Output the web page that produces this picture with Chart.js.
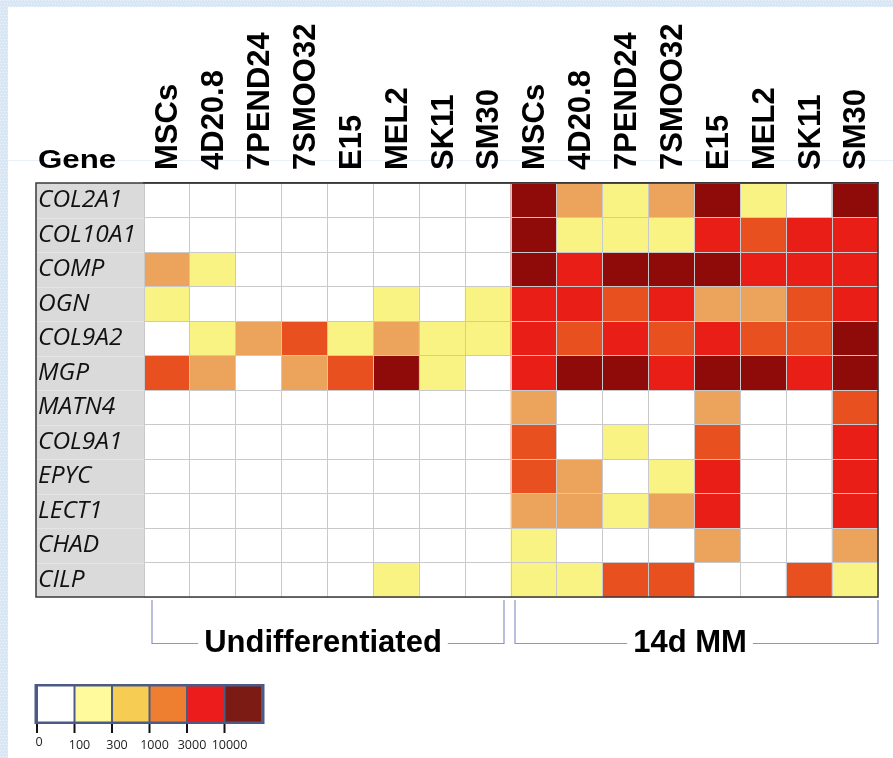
<!DOCTYPE html>
<html>
<head>
<meta charset="utf-8">
<script src="https://cdn.jsdelivr.net/npm/chart.js@4.4.1/dist/chart.umd.min.js"></script>
<style>
  html, body { margin: 0; padding: 0; background: #ffffff; }
  #wrap { width: 893px; height: 758px; position: relative; }
</style>
</head>
<body>
<div id="wrap"><canvas id="heat" width="893" height="758"></canvas></div>
<script>
// Genes (rows) and cell lines (columns, repeated for each condition)
const genes = ['COL2A1', 'COL10A1', 'COMP', 'OGN', 'COL9A2', 'MGP',
               'MATN4', 'COL9A1', 'EPYC', 'LECT1', 'CHAD', 'CILP'];
const cellLines = ['MSCs', '4D20.8', '7PEND24', '7SMOO32', 'E15', 'MEL2', 'SK11', 'SM30'];
const groups = ['Undifferentiated', '14d MM'];

// Colour-scale bin edges (relative expression)
const thresholds = [0, 100, 300, 1000, 3000, 10000];

// Expression bin per cell (index into thresholds), rows follow `genes`
const undifferentiatedBins = [
  [0, 0, 0, 0, 0, 0, 0, 0],
  [0, 0, 0, 0, 0, 0, 0, 0],
  [2, 1, 0, 0, 0, 0, 0, 0],
  [1, 0, 0, 0, 0, 1, 0, 1],
  [0, 1, 2, 3, 1, 2, 1, 1],
  [3, 2, 0, 2, 3, 5, 1, 0],
  [0, 0, 0, 0, 0, 0, 0, 0],
  [0, 0, 0, 0, 0, 0, 0, 0],
  [0, 0, 0, 0, 0, 0, 0, 0],
  [0, 0, 0, 0, 0, 0, 0, 0],
  [0, 0, 0, 0, 0, 0, 0, 0],
  [0, 0, 0, 0, 0, 1, 0, 0]
];
const mmBins = [
  [5, 2, 1, 2, 5, 1, 0, 5],
  [5, 1, 1, 1, 4, 3, 4, 4],
  [5, 4, 5, 5, 5, 4, 4, 4],
  [4, 4, 3, 4, 2, 2, 3, 4],
  [4, 3, 4, 3, 4, 3, 3, 5],
  [4, 5, 5, 4, 5, 5, 4, 5],
  [2, 0, 0, 0, 2, 0, 0, 3],
  [3, 0, 1, 0, 3, 0, 0, 4],
  [3, 2, 0, 1, 4, 0, 0, 4],
  [2, 2, 1, 2, 4, 0, 0, 4],
  [1, 0, 0, 0, 2, 0, 0, 2],
  [1, 1, 3, 3, 0, 0, 3, 1]
];

// Palettes: heatmap cells and the key below it
const cellColors = ['#ffffff', '#f9f383', '#eca35c', '#e8501f', '#e91e16', '#8e0b0a'];
const keyColors = ['#ffffff', '#fffa9c', '#f6cd52', '#ef7f30', '#ec1c1c', '#7c1b14'];

const columns = cellLines.concat(cellLines);

// One floating-bar dataset per gene row
const datasets = genes.map((g, r) => {
  const bins = undifferentiatedBins[r].concat(mmBins[r]);
  return {
    label: g,
    data: columns.map(() => [r, r + 1]),
    backgroundColor: bins.map(b => cellColors[b]),
    borderWidth: 0,
    grouped: false,
    barPercentage: 1,
    categoryPercentage: 1
  };
});

const TABLE_LEFT = 36, TABLE_TOP = 183, TABLE_RIGHT = 878, TABLE_BOTTOM = 597;

const decor = {
  id: 'decor',
  beforeDraw(chart) {
    const ctx = chart.ctx;
    const W = chart.width, H = chart.height;
    ctx.save();
    // light blue textured margin
    ctx.fillStyle = '#d9e6f4';
    ctx.fillRect(0, 0, W, H);
    ctx.fillStyle = '#edf3fa';
    for (let y = 0; y < H; y += 3) {
      for (let x = 0; x < W; x += 3) {
        if (x < 9 || y < 8) ctx.fillRect(x + ((y / 3) % 2), y, 1, 1);
      }
    }
    ctx.fillStyle = '#ffffff';
    ctx.fillRect(8, 7, W - 8, H - 7);
    // faint guide line behind the header
    ctx.strokeStyle = 'rgba(195,213,236,0.35)';
    ctx.lineWidth = 1;
    ctx.beginPath();
    ctx.moveTo(8, 160.5);
    ctx.lineTo(W, 160.5);
    ctx.stroke();
    // grey gene-name column
    const ys = chart.scales.yGrid;
    ctx.fillStyle = '#dadada';
    ctx.fillRect(TABLE_LEFT, TABLE_TOP, chart.chartArea.left - TABLE_LEFT, TABLE_BOTTOM - TABLE_TOP);
    ctx.strokeStyle = '#e4e4e4';
    for (let i = 1; i < genes.length; i++) {
      const py = Math.round(ys.getPixelForValue(i)) + 0.5;
      ctx.beginPath();
      ctx.moveTo(TABLE_LEFT, py);
      ctx.lineTo(chart.chartArea.left, py);
      ctx.stroke();
    }
    ctx.restore();
  },
  afterDraw(chart) {
    const ctx = chart.ctx;
    const xs = chart.scales.x;
    ctx.save();
    // outer frame of the table
    ctx.strokeStyle = '#3a3a3a';
    ctx.lineWidth = 1.5;
    ctx.strokeRect(TABLE_LEFT, TABLE_TOP, TABLE_RIGHT - TABLE_LEFT, TABLE_BOTTOM - TABLE_TOP);

    // "Gene" heading
    ctx.fillStyle = '#000000';
    ctx.font = 'bold 25px "Liberation Sans", Arial, sans-serif';
    ctx.textAlign = 'left';
    ctx.textBaseline = 'alphabetic';
    ctx.save();
    ctx.translate(38, 168);
    ctx.scale(1.25, 1);
    ctx.fillText('Gene', 0, 0);
    ctx.restore();

    // group brackets
    const bw = (xs.getPixelForValue(1) - xs.getPixelForValue(0));
    const groupSpans = [
      { a: xs.getPixelForValue(0) - bw / 2 + 8, b: xs.getPixelForValue(7) + bw / 2 - 7, tx: 323 },
      { a: xs.getPixelForValue(8) - bw / 2 + 4, b: xs.getPixelForValue(15) + bw / 2, tx: 690 }
    ];
    ctx.font = 'bold 31px "Liberation Sans", Arial, sans-serif';
    const top = 600, yb = 643.5;
    groupSpans.forEach((s, i) => {
      const tw = ctx.measureText(groups[i]).width;
      ctx.strokeStyle = '#8c94c8';
      ctx.lineWidth = 1.2;
      ctx.beginPath();
      ctx.moveTo(s.a, top);
      ctx.lineTo(s.a, yb);
      ctx.lineTo(s.tx - tw / 2 - 6, yb);
      ctx.moveTo(s.tx + tw / 2 + 6, yb);
      ctx.lineTo(s.b, yb);
      ctx.lineTo(s.b, top);
      ctx.stroke();
      ctx.fillStyle = '#000000';
      ctx.textAlign = 'center';
      ctx.fillText(groups[i], s.tx, 652);
    });

    // colour key
    const kx = 37, ky = 686, cw = 37.5, kh = 36;
    ctx.fillStyle = '#4b5b86';
    ctx.fillRect(kx - 2.5, ky - 2, cw * keyColors.length + 5, kh + 4);
    keyColors.forEach((c, i) => {
      ctx.fillStyle = c;
      ctx.fillRect(kx + i * cw + 1, ky + 0.5, cw - 2, kh - 1);
    });
    ctx.strokeStyle = '#111111';
    ctx.lineWidth = 2;
    ctx.font = '12.5px "Open Sans", "Liberation Sans", sans-serif';
    ctx.fillStyle = '#222222';
    ctx.textAlign = 'center';
    thresholds.forEach((t, i) => {
      const tx = kx + i * cw;
      ctx.beginPath();
      ctx.moveTo(tx, ky + kh + 2);
      ctx.lineTo(tx, ky + kh + 11);
      ctx.stroke();
      ctx.fillText(String(t), i === 0 ? tx + 2 : tx + 5, i === 0 ? 746 : 749);
    });
    ctx.restore();
  }
};

new Chart(document.getElementById('heat'), {
  type: 'bar',
  data: { labels: columns, datasets },
  options: {
    responsive: false,
    devicePixelRatio: 1,
    animation: false,
    layout: { padding: { left: 38, top: 0, right: 893 - TABLE_RIGHT, bottom: 758 - TABLE_BOTTOM } },
    plugins: { legend: { display: false }, tooltip: { enabled: false } },
    scales: {
      x: {
        type: 'category',
        position: 'top',
        grid: { color: '#c9c9cc', lineWidth: 1, drawTicks: false, offset: true, z: 1 },
        border: { display: true, color: '#3a3a3a', width: 1.5, z: 2 },
        ticks: {
          autoSkip: false,
          minRotation: 90,
          maxRotation: 90,
          padding: 13,
          labelOffset: 39,
          color: '#000000',
          font: { family: '"Liberation Sans", Arial, sans-serif', size: 31, weight: 'bold' }
        },
        afterFit(scale) { scale.height = TABLE_TOP; }
      },
      y: {
        type: 'linear',
        position: 'left',
        reverse: true,
        min: 0,
        max: genes.length,
        grid: { display: false, drawTicks: false },
        border: { display: false },
        afterBuildTicks(scale) {
          scale.ticks = genes.map((g, i) => ({ value: i + 0.5 }));
        },
        ticks: {
          crossAlign: 'far',
          padding: 0,
          color: '#111111',
          font: { family: '"Open Sans", sans-serif', size: 24.5, style: 'italic' },
          callback: (v) => genes[Math.floor(v)]
        },
        afterFit(scale) { scale.width = 144 - 38; }
      },
      yGrid: {
        type: 'linear',
        position: 'right',
        reverse: true,
        min: 0,
        max: genes.length,
        grid: { color: '#c9c9cc', lineWidth: 1, drawTicks: false, z: 1 },
        border: { display: false },
        ticks: { display: false, stepSize: 1 },
        afterFit(scale) { scale.width = 0; }
      }
    }
  },
  plugins: [decor]
});
</script>
</body>
</html>
